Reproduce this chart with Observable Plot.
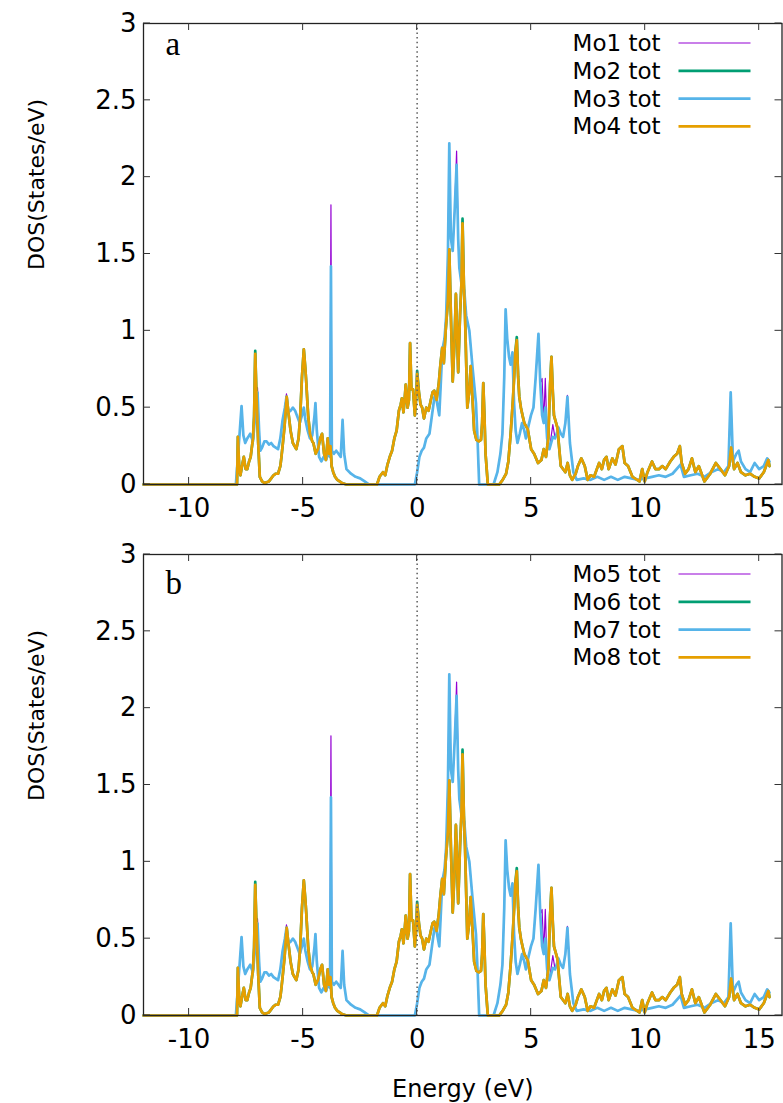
<!DOCTYPE html>
<html><head><meta charset="utf-8">
<script src="https://cdn.jsdelivr.net/npm/d3@7"></script>
<script src="https://cdn.jsdelivr.net/npm/@observablehq/plot@0.6"></script>
<style>body{margin:0;background:#fff} svg{display:block}</style>
</head><body><div id="chart"></div>
<script>
// ---- tick values ----
const energyTicks = [-10, -5, 0, 5, 10, 15];
const dosTicks = [0, 0.5, 1, 1.5, 2, 2.5, 3];

// ---- series names / colours ----
const seriesA = ["Mo1 tot", "Mo2 tot", "Mo3 tot", "Mo4 tot"];
const seriesB = ["Mo5 tot", "Mo6 tot", "Mo7 tot", "Mo8 tot"];
const colors = ["#9400d3", "#009e73", "#56b4e9", "#e69f00"];
const widths = [1.2, 2.7, 2.7, 2.7];

// ---- Mo3 (blue) [energy eV, DOS] ----
const mo3 = [[-12,0],[-7.95,0],[-7.85,0.2],[-7.7,0.51],[-7.62,0.32],[-7.54,0.27],[-7.45,0.3],[-7.32,0.33],[-7.2,0.28],[-7.1,0.45],[-7.0,0.6],[-6.93,0.35],[-6.88,0.22],[-6.8,0.24],[-6.7,0.28],[-6.6,0.28],[-6.5,0.26],[-6.4,0.27],[-6.3,0.25],[-6.2,0.24],[-6.1,0.23],[-6.0,0.3],[-5.9,0.42],[-5.8,0.5],[-5.73,0.57],[-5.65,0.47],[-5.55,0.48],[-5.45,0.5],[-5.35,0.48],[-5.25,0.44],[-5.15,0.4],[-5.05,0.45],[-4.97,0.5],[-4.9,0.42],[-4.8,0.35],[-4.7,0.3],[-4.6,0.32],[-4.5,0.45],[-4.46,0.53],[-4.4,0.35],[-4.3,0.18],[-4.2,0.15],[-4.1,0.18],[-4.0,0.16],[-3.9,0.2],[-3.82,0.18],[-3.78,1.42],[-3.74,0.22],[-3.65,0.2],[-3.55,0.22],[-3.45,0.2],[-3.35,0.18],[-3.27,0.42],[-3.2,0.2],[-3.1,0.1],[-2.9,0.07],[-2.7,0.05],[-2.5,0.04],[-2.3,0.02],[-2.1,0],[-0.1,0],[0.0,0.08],[0.1,0.18],[0.2,0.22],[0.3,0.24],[0.4,0.3],[0.54,0.33],[0.65,0.45],[0.76,0.57],[0.85,0.55],[0.97,0.45],[1.05,0.7],[1.1,0.87],[1.2,0.95],[1.27,1.09],[1.35,1.5],[1.41,2.22],[1.48,1.6],[1.56,1.52],[1.65,1.8],[1.73,2.08],[1.8,1.6],[1.85,1.41],[1.95,1.3],[2.07,1.26],[2.15,1.1],[2.29,1.0],[2.43,0.76],[2.58,0.53],[2.65,0.29],[2.72,0],[3.35,0],[3.52,0.08],[3.65,0.2],[3.74,0.33],[3.82,0.7],[3.88,1.14],[3.95,0.95],[4.03,0.83],[4.1,0.78],[4.18,0.86],[4.25,0.53],[4.32,0.35],[4.4,0.27],[4.5,0.33],[4.6,0.4],[4.7,0.35],[4.77,0.3],[4.88,0.38],[4.99,0.45],[5.1,0.5],[5.2,0.7],[5.32,0.98],[5.4,0.66],[5.48,0.45],[5.55,0.4],[5.62,0.5],[5.7,0.3],[5.8,0.23],[5.95,0.31],[6.05,0.3],[6.2,0.37],[6.3,0.33],[6.4,0.31],[6.5,0.4],[6.59,0.57],[6.7,0.27],[6.85,0.08],[7.0,0.03],[7.3,0.04],[7.6,0.03],[7.9,0.05],[8.2,0.03],[8.5,0.05],[8.8,0.03],[9.1,0.05],[9.4,0.04],[9.7,0.03],[10.0,0.04],[10.3,0.05],[10.6,0.06],[10.9,0.05],[11.2,0.07],[11.55,0.13],[11.7,0.05],[12.0,0.06],[12.3,0.07],[12.6,0.05],[12.9,0.08],[13.2,0.1],[13.45,0.08],[13.65,0.12],[13.75,0.6],[13.85,0.15],[14.0,0.2],[14.1,0.22],[14.2,0.15],[14.4,0.1],[14.6,0.08],[14.8,0.14],[15.0,0.1],[15.2,0.12],[15.35,0.17],[15.45,0.15]];

// ---- Mo4 (orange) [energy eV, DOS] ----
const mo4 = [[-12,0],[-7.9,0],[-7.86,0.31],[-7.8,0.1],[-7.75,0.06],[-7.68,0.12],[-7.6,0.18],[-7.52,0.1],[-7.45,0.1],[-7.37,0.15],[-7.3,0.18],[-7.2,0.3],[-7.15,0.44],[-7.1,0.85],[-7.05,0.6],[-6.97,0.27],[-6.9,0.05],[-6.8,0.02],[-6.7,0.01],[-6.5,0.02],[-6.4,0.04],[-6.3,0.06],[-6.2,0.07],[-6.1,0.07],[-6.0,0.12],[-5.95,0.18],[-5.88,0.28],[-5.82,0.37],[-5.72,0.57],[-5.63,0.45],[-5.55,0.35],[-5.45,0.27],[-5.3,0.23],[-5.2,0.3],[-5.13,0.44],[-5.05,0.7],[-4.97,0.88],[-4.9,0.75],[-4.86,0.66],[-4.78,0.45],[-4.7,0.33],[-4.6,0.28],[-4.55,0.27],[-4.45,0.2],[-4.35,0.23],[-4.25,0.3],[-4.17,0.33],[-4.08,0.2],[-4.0,0.16],[-3.92,0.3],[-3.86,0.2],[-3.8,0.25],[-3.75,0.12],[-3.68,0.08],[-3.6,0.05],[-3.5,0.03],[-3.3,0.01],[-3.1,0],[-1.76,0],[-1.65,0.05],[-1.5,0.08],[-1.4,0.06],[-1.3,0.13],[-1.2,0.18],[-1.1,0.22],[-1.0,0.3],[-0.9,0.35],[-0.8,0.48],[-0.72,0.52],[-0.67,0.56],[-0.6,0.47],[-0.55,0.55],[-0.5,0.65],[-0.42,0.5],[-0.36,0.55],[-0.31,0.92],[-0.25,0.62],[-0.18,0.62],[-0.1,0.45],[-0.05,0.55],[0.0,0.72],[0.08,0.6],[0.15,0.52],[0.22,0.5],[0.3,0.43],[0.4,0.5],[0.5,0.48],[0.6,0.55],[0.68,0.6],[0.75,0.61],[0.85,0.55],[0.95,0.66],[1.02,0.78],[1.1,0.89],[1.17,0.79],[1.25,1.0],[1.35,1.2],[1.41,1.53],[1.48,1.1],[1.56,0.67],[1.63,0.9],[1.7,1.24],[1.75,1.0],[1.8,0.73],[1.88,1.1],[1.94,1.3],[1.99,1.7],[2.05,1.3],[2.1,1.1],[2.2,0.5],[2.28,0.6],[2.35,0.77],[2.43,0.55],[2.5,0.35],[2.6,0.29],[2.7,0.28],[2.8,0.29],[2.85,0.4],[2.9,0.66],[2.95,0.45],[3.0,0.2],[3.1,0],[3.6,0],[3.75,0.03],[3.9,0.07],[4.0,0.15],[4.1,0.33],[4.2,0.55],[4.25,0.69],[4.3,0.85],[4.37,0.94],[4.43,0.7],[4.48,0.57],[4.55,0.5],[4.62,0.45],[4.7,0.4],[4.85,0.36],[5.0,0.23],[5.13,0.2],[5.3,0.14],[5.45,0.16],[5.55,0.23],[5.65,0.18],[5.75,0.3],[5.83,0.65],[5.89,0.83],[5.95,0.6],[6.0,0.45],[6.15,0.37],[6.3,0.12],[6.5,0.08],[6.6,0.14],[6.7,0.06],[6.8,0.03],[6.95,0.07],[7.05,0.12],[7.2,0.17],[7.35,0.12],[7.48,0.03],[7.6,0.06],[7.76,0.05],[7.88,0.1],[7.98,0.14],[8.1,0.1],[8.2,0.16],[8.3,0.18],[8.4,0.1],[8.56,0.17],[8.7,0.13],[8.85,0.23],[9.0,0.25],[9.1,0.14],[9.25,0.12],[9.44,0.05],[9.65,0.03],[9.75,0.02],[9.87,0.1],[9.98,0.02],[10.1,0.08],[10.3,0.15],[10.45,0.1],[10.6,0.1],[10.75,0.12],[10.9,0.1],[11.1,0.15],[11.25,0.18],[11.4,0.2],[11.52,0.25],[11.6,0.14],[11.75,0.07],[11.9,0.1],[12.05,0.17],[12.2,0.08],[12.35,0.12],[12.6,0.02],[12.85,0.07],[13.1,0.14],[13.3,0.1],[13.5,0.06],[13.68,0.12],[13.77,0.24],[13.9,0.1],[14.05,0.14],[14.2,0.08],[14.4,0.06],[14.6,0.07],[14.8,0.05],[15.0,0.04],[15.2,0.08],[15.4,0.16],[15.45,0.12]];

// ---- Mo1 (purple) differs from Mo3 only at these points ----
const mo1Peaks = [[-7.0,0.63],[-5.73,0.59],[-3.78,1.82],[1.73,2.17],[5.48,0.69],[5.62,0.69],[5.95,0.39],[6.59,0.58]];
// ---- Mo2 (green) differs from Mo4 only at these points ----
const mo2Peaks = [[-7.1,0.87],[0.0,0.74],[1.99,1.73],[4.37,0.96]];

// panel b curves read identical to panel a
const withPeaks = (base, peaks) => { const m = new Map(peaks); return base.map(([e, v]) => [e, m.has(e) ? m.get(e) : v]); };
const curves = [withPeaks(mo3, mo1Peaks), withPeaks(mo4, mo2Peaks), mo3, mo4];

const FONT = "DejaVu Sans";
const TICK_FS = 26;
const TICK_LEN = 7;

// inward (gnuplot-style) ticks on all four sides, placed through Plot's scales
function inwardTicks(index, scales, values, dim) {
  const g = d3.create("svg:g").attr("stroke", "#333").attr("stroke-width", 1);
  const top = dim.marginTop, bottom = dim.height - dim.marginBottom;
  const left = dim.marginLeft, right = dim.width - dim.marginRight;
  for (const t of energyTicks) {
    const x = scales.x(t);
    g.append("line").attr("x1", x).attr("x2", x).attr("y1", bottom).attr("y2", bottom - TICK_LEN);
    g.append("line").attr("x1", x).attr("x2", x).attr("y1", top).attr("y2", top + TICK_LEN);
  }
  for (const t of dosTicks) {
    const y = scales.y(t);
    g.append("line").attr("x1", left).attr("x2", left + TICK_LEN).attr("y1", y).attr("y2", y);
    g.append("line").attr("x1", right).attr("x2", right - TICK_LEN).attr("y1", y).attr("y2", y);
  }
  return g.node();
}

function panel({names, letter, letterDy, height, marginTop, marginBottom, xLabel}) {
  const marks = [];
  curves.forEach((c, i) => {
    marks.push(Plot.line(c, {x: d => d[0], y: d => d[1], stroke: colors[i], strokeWidth: widths[i], strokeLinejoin: "round"}));
  });
  marks.push(Plot.ruleX([0], {stroke: "#666", strokeWidth: 1.6, strokeDasharray: "1.5,3.2"}));
  marks.push(Plot.frame({stroke: "#222", strokeWidth: 1.3}));
  marks.push(inwardTicks);
  // tick labels
  marks.push(Plot.axisX(energyTicks, {anchor: "bottom", tickSize: 0, tickPadding: 14, fontSize: TICK_FS, label: null, tickFormat: d => String(d), fill: "#000"}));
  marks.push(Plot.axisY(dosTicks, {anchor: "left", tickSize: 0, tickPadding: 7, fontSize: TICK_FS, label: null, tickFormat: d => String(d), fill: "#000"}));
  // y label
  marks.push(Plot.text(["DOS(States/eV)"], {frameAnchor: "left", rotate: -90, dx: -107, dy: 16, fontSize: 22, fill: "#000"}));
  if (xLabel) marks.push(Plot.text([xLabel], {frameAnchor: "bottom", dy: 74, lineAnchor: "middle", fontSize: 24, fill: "#000"}));
  // panel letter
  marks.push(Plot.text([letter], {frameAnchor: "top-left", lineAnchor: "middle", dx: 22, dy: letterDy, fontSize: 33, fontFamily: "Liberation Serif", fill: "#000"}));
  // legend
  marks.push((index, scales, values, dim) => {
    const g = d3.create("svg:g");
    const right = dim.width - dim.marginRight;
    names.forEach((n, i) => {
      const y = dim.marginTop + 20 + i * 27.8;
      g.append("text").attr("x", right - 121).attr("y", y).attr("dy", "0.35em")
        .attr("text-anchor", "end").attr("font-size", 23).attr("font-family", FONT).attr("fill", "#000").text(n);
      g.append("line").attr("x1", right - 103).attr("x2", right - 31).attr("y1", y).attr("y2", y)
        .attr("stroke", colors[i]).attr("stroke-width", i === 0 ? 1.2 : 2.7);
    });
    return g.node();
  });
  return Plot.plot({
    width: 783, height, marginLeft: 143, marginRight: 1.5, marginTop, marginBottom,
    x: {domain: [-12, 16]}, y: {domain: [0, 3]},
    style: {fontFamily: FONT, fontSize: "23px", background: "#fff", color: "#000"},
    marks
  });
}

const root = document.getElementById("chart");
root.append(panel({names: seriesA, letter: "a", letterDy: 21, height: 532, marginTop: 23, marginBottom: 48}));
root.append(panel({names: seriesB, letter: "b", letterDy: 29, height: 571, marginTop: 22, marginBottom: 88, xLabel: "Energy (eV)"}));
</script>
</body></html>
